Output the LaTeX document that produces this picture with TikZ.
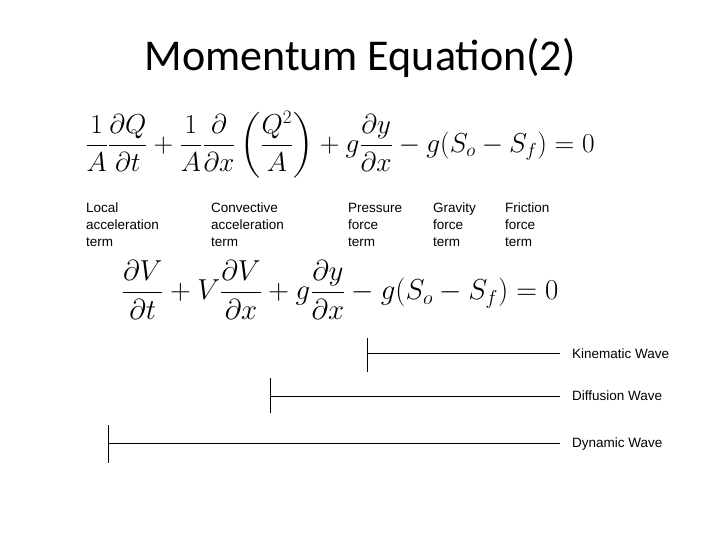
\documentclass[tikz,border=0pt]{standalone}
\usepackage{fontspec}
\setmainfont{Liberation Sans}
\newfontfamily\titlefont{Carlito}
\usepackage{amsmath}
\usepackage{graphicx}
\begin{document}
\begin{tikzpicture}[x=1pt,y=-1pt,
  lbl/.style={align=left,anchor=north west,inner sep=0pt,font=\fontsize{13.5}{17}\selectfont},
  ln/.style={line width=0.7pt}]
\useasboundingbox[fill=white] (0,0) rectangle (720,540);
\node (title) at (360,58) {\titlefont\fontsize{44}{50}\selectfont Momentum Equation(2)};
\node (eq1) at (340,145) {\scalebox{1.1}{\fontsize{24}{28}\selectfont$\dfrac{1}{A}\dfrac{\partial Q}{\partial t}+\dfrac{1}{A}\dfrac{\partial}{\partial x}\left(\dfrac{Q^2}{A}\right)+g\dfrac{\partial y}{\partial x}-g(S_o-S_f)=0$}};
\node[lbl] (l1) at (86,203) {Local\\acceleration\\term};
\node[lbl] (l2) at (211,203) {Convective\\acceleration\\term};
\node[lbl] (l3) at (348,203) {Pressure\\force\\term};
\node[lbl] (l4) at (433,203) {Gravity\\force\\term};
\node[lbl] (l5) at (505,203) {Friction\\force\\term};
\node (eq2) at (340,290) {\scalebox{1.16}{\fontsize{24}{28}\selectfont$\dfrac{\partial V}{\partial t}+V\dfrac{\partial V}{\partial x}+g\dfrac{\partial y}{\partial x}-g(S_o-S_f)=0$}};
\coordinate (k1) at (367,338); \coordinate (k2) at (367,372);
\coordinate (k3) at (367,353); \coordinate (k4) at (560,353);
\draw[ln] (k1) -- (k2); \draw[ln] (k3) -- (k4);
\node[lbl,anchor=west] (kw) at (572,354) {Kinematic Wave};
\coordinate (d1) at (270,378); \coordinate (d2) at (270,413);
\coordinate (d3) at (270,396); \coordinate (d4) at (560,396);
\draw[ln] (d1) -- (d2); \draw[ln] (d3) -- (d4);
\node[lbl,anchor=west] (dw) at (572,396) {Diffusion Wave};
\coordinate (y1) at (108,425); \coordinate (y2) at (108,463);
\coordinate (y3) at (108,443); \coordinate (y4) at (560,443);
\draw[ln] (y1) -- (y2); \draw[ln] (y3) -- (y4);
\node[lbl,anchor=west] (yw) at (572,444) {Dynamic Wave};
\end{tikzpicture}
\end{document}
